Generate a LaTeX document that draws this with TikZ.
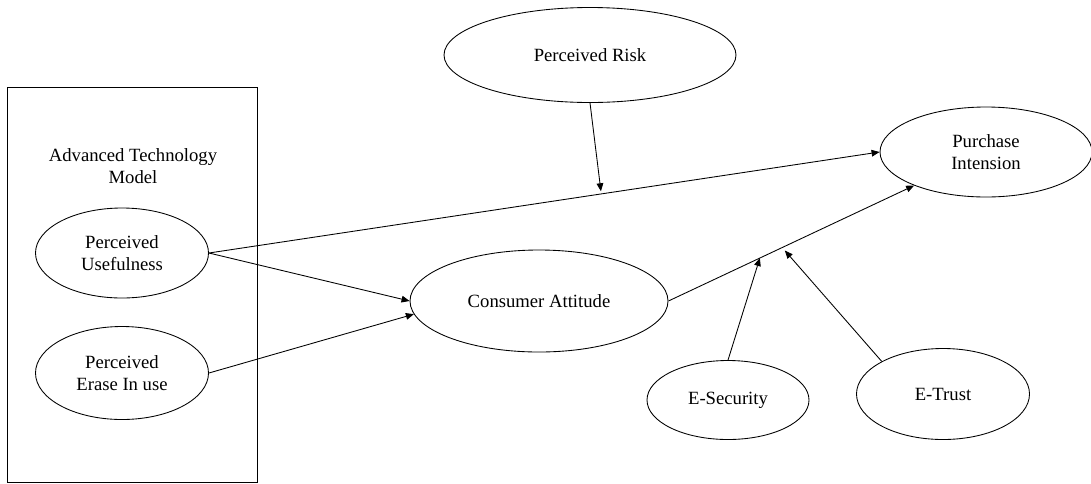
\documentclass[tikz,border=0pt]{standalone}
\usepackage{fontspec}
\setmainfont{Liberation Serif}
\usepackage{tikz}
\usetikzlibrary{calc, shapes.geometric, arrows.meta, positioning}

\begin{document}
\begin{tikzpicture}[>={Triangle[length=6pt,width=5pt]}, x=0.75pt, y=-0.75pt,
    oval/.style 2 args={ellipse, draw, line width=0.65pt, inner sep=0pt,
        minimum width=#1*0.75pt, minimum height=#2*0.75pt, align=center,
        font=\fontsize{14}{16.5}\selectfont},
    link/.style={->, line width=0.65pt}]

    % =================================================================
    % 1. KHUNG HÌNH VÀ KHỐI MÔ HÌNH CÔNG NGHỆ
    % =================================================================
    \useasboundingbox (0,0) rectangle (1091,483);
    \draw[line width=0.65pt] (7,87) rectangle (257,482);
    \node[align=center, font=\fontsize{14}{16.5}\selectfont] (atm) at (133,166) {Advanced Technology\\Model};

    % =================================================================
    % 2. CÁC BIẾN (HÌNH ELIP)
    % =================================================================
    \node[oval={173}{90}] (pu) at (122,253) {Perceived\\Usefulness};
    \node[oval={173}{93}] (pe) at (122,373) {Perceived\\Erase In use};
    \node[oval={292}{95}] (pr) at (590,55) {Perceived Risk};
    \node[oval={258}{102}] (ca) at (539,301) {Consumer Attitude};
    \node[oval={212}{90}] (pi) at (986,152) {Purchase\\Intension};
    \node[oval={162}{79}] (es) at (728,400) {E-Security};
    \node[oval={173}{91}] (et) at (943,394) {E-Trust};

    % =================================================================
    % 3. CÁC MŨI TÊN QUAN HỆ
    % =================================================================
    \draw[link] (pu.east) -- (pi.west);
    \draw[link] (pu.east) -- (ca.west);
    \draw[link] (pe.east) -- (ca.186);
    \draw[link] (ca.east) -- (pi.205);

    % Điểm tác động lên các đường nối (biến điều tiết)
    \coordinate (rk) at ($(pu.east)!0.585!(pi.west)$);
    \coordinate (sc) at ($(ca.east)!0.372!(pi.205)$);
    \coordinate (tr) at ($(ca.east)!0.463!(pi.205)$);

    \draw[link, shorten >=2pt] (pr.south) -- (rk);
    \draw[link] (es.north) -- (sc);
    \draw[link, shorten >=3pt] (et.152) -- (tr);

\end{tikzpicture}
\end{document}
